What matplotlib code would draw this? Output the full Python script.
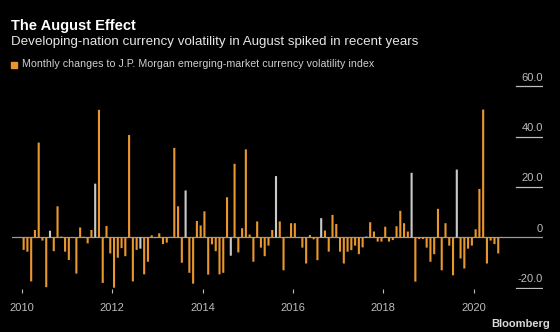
import matplotlib
matplotlib.use("Agg")
import matplotlib.pyplot as plt
import matplotlib.patches as mpatches
import numpy as np

# monthly change of the JPM EM currency volatility index, Jan 2010 .. Jul 2020
chg_2010 = [-5.0, -5.7, -17.5, 2.9, 37.6, -1.3, -19.8, 2.6, -5.5, 12.3, 0.3, -5.7]
chg_2011 = [-9.0, -0.3, -14.4, 3.9, 0.2, -2.4, 2.9, 21.3, 50.6, -18.1, 4.5, -6.4]
chg_2012 = [-20.0, -8.1, -4.3, -7.5, 40.6, -17.5, -5.0, -4.5, -14.7, -9.7, 0.8, -0.3]
chg_2013 = [1.6, -2.7, -2.1, 0.2, 35.5, 12.3, -10.1, 18.6, -14.1, -18.4, 6.5, 4.7]
chg_2014 = [10.3, -14.8, -2.8, -5.5, -14.7, -14.1, 15.9, -7.3, 29.2, -6.0, 3.6, 34.9]
chg_2015 = [1.1, -9.7, 6.3, -4.1, -7.5, -3.3, 2.9, 24.3, 6.3, -13.1, 0.2, 5.6]
chg_2016 = [5.6, -0.3, -4.1, -10.4, 0.9, -0.8, -9.1, 7.6, 2.7, -5.7, 8.9, 5.3]
chg_2017 = [-5.7, -10.4, -5.7, -5.1, -3.3, -6.7, -4.0, 0.3, 6.0, 2.3, -1.7, -1.7]
chg_2018 = [4.2, -1.7, -1.1, 4.4, 10.5, 5.6, 2.3, 25.6, -17.6, -0.7, -0.7, -4.1]
chg_2019 = [-9.7, -6.7, 11.3, -13.1, 5.6, -3.3, -15.1, 26.9, -8.4, -12.4, -4.5, -3.3]
chg_2020 = [3.2, 19.2, 50.7, -10.4, -1.3, -2.7, -6.4]

start_year = 2010
august = 8
year_ticks = [2010, 2012, 2014, 2016, 2018, 2020]
y_ticks = [60, 40, 20, 0, -20]
y_tick_labels = ["60.0", "40.0", "20.0", "0", "-20.0"]

ORANGE = "#e8962e"
GREY = "#c9c9c9"
BG = "#000000"
NARROW = ["Liberation Sans Narrow", "Liberation Sans", "DejaVu Sans"]
SANS = ["Liberation Sans", "DejaVu Sans"]

values = np.array(chg_2010 + chg_2011 + chg_2012 + chg_2013 + chg_2014 + chg_2015
                  + chg_2016 + chg_2017 + chg_2018 + chg_2019 + chg_2020)
months = np.arange(len(values))
x = start_year + (months + 0.5) / 12
month_of_year = months % 12 + 1
colors = [GREY if m == august else ORANGE for m in month_of_year]

W, H = 560, 332
fig = plt.figure(figsize=(W / 100, H / 100), dpi=100)
fig.patch.set_facecolor(BG)

# axes placed in pixel terms
left_px, right_px = 11.7, 543.0
top_px, bot_px = 81.1, 288.7
ax = fig.add_axes([left_px / W, 1 - bot_px / H, (right_px - left_px) / W, (bot_px - top_px) / H])
ax.set_facecolor(BG)

bars = ax.bar(x, values, width=0.56 / 12, color=colors, zorder=2, linewidth=0)
for b in bars:
    b.set_snap(False)

px_per_year = 45.2
ax.set_xlim(2010 - (21.75 - left_px) / px_per_year, 2010 + (right_px - 21.75) / px_per_year)
ax.set_ylim(-20.4, 62)

for s in ax.spines.values():
    s.set_visible(False)

# zero line across, short rules under the right-hand labels
ytr = ax.get_yaxis_transform()
ax.plot([0, 1], [0, 0], transform=ytr, color="#9a9a9a", lw=0.9, zorder=1)
for v, lab in zip(y_ticks, y_tick_labels):
    if v != 0:
        ax.plot([0.949, 1.0], [v, v], transform=ytr, color="#bdbdbd", lw=0.9, zorder=1)
    ax.text(1.0, v + 1.4, lab, transform=ytr, ha="right", va="bottom",
            color="#bdbdbd", fontsize=8, family=SANS)

ax.set_yticks([])
ax.set_xticks(year_ticks)
ax.set_xticklabels([str(y) for y in year_ticks], family=SANS)
ax.tick_params(axis="x", colors="#bdbdbd", labelsize=8, length=3, width=0.8, pad=7)

fig.text(11 / W, 1 - 30 / H, "The August Effect", color="white", fontsize=10.5,
         fontweight="bold", family=NARROW, va="baseline")
fig.text(11 / W, 1 - 45 / H, "Developing-nation currency volatility in August spiked in recent years",
         color="#e6e6e6", fontsize=9.6, family=NARROW, va="baseline")

fig.patches.append(mpatches.Rectangle((11 / W, 1 - 67.5 / H), 5.5 / W, 5.5 / H,
                                      transform=fig.transFigure, color=ORANGE))
fig.text(22 / W, 1 - 67 / H, "Monthly changes to J.P. Morgan emerging-market currency volatility index",
         color="#cfcfcf", fontsize=7.7, family=NARROW, va="baseline")

fig.text(550 / W, 1 - 327 / H, "Bloomberg", color="#d9d9d9", fontsize=8,
         fontweight="bold", family=SANS, ha="right", va="baseline")

fig.savefig("out.png", dpi=100, facecolor=BG)
